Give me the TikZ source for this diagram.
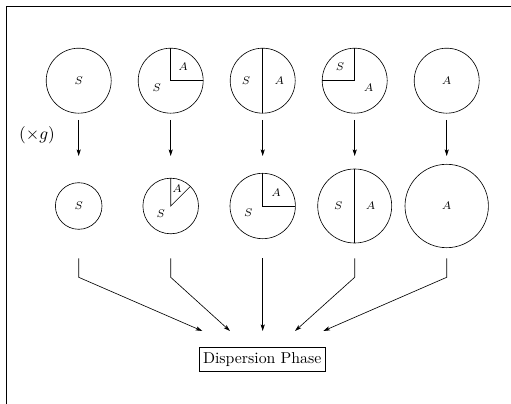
\documentclass[tikz,border=0pt]{standalone}
\usetikzlibrary{calc,arrows.meta}
\begin{document}
\begin{tikzpicture}[x=0.633pt,y=-0.633pt,
    >={Stealth[length=4.2pt,width=2.6pt,inset=1pt]},
    lbl/.style={font=\scriptsize},
    boxed/.style={draw,inner xsep=2.5pt,inner ysep=3pt}]
\useasboundingbox (0,0) rectangle (511,404);
% Rahmen
\draw (511,6) -- (6,6) -- (6,404);

% Mittelpunkte der Tropfen
\foreach \i/\x in {1/78.7,2/170.7,3/262.7,4/354.7,5/446.7} {
  \coordinate (t\i) at (\x,80.7);
  \coordinate (b\i) at (\x,206);
  \coordinate (u\i) at (\x,120);
  \coordinate (v\i) at (\x,156);
  \coordinate (p\i) at (\x,258.3);
  \coordinate (k\i) at (\x,277.3);
}

% obere Reihe
\foreach \i in {1,...,5} \draw (t\i) circle[radius=32.5];
\draw (t2) ++(0,-32.5) -- (t2) -- ++(32.5,0);
\draw (t3) ++(0,-32.5) -- ++(0,65);
\draw (t4) ++(0,-32.5) -- (t4) -- ++(-32.5,0);

\node[lbl] (s1) at (t1) {$S$};
\node[lbl] (a2) at ($(t2)+(12.3,-14)$) {$A$};
\node[lbl] (s2) at ($(t2)+(-14,7)$) {$S$};
\node[lbl] (s3) at ($(t3)+(-16.7,0)$) {$S$};
\node[lbl] (a3) at ($(t3)+(16.7,0)$) {$A$};
\node[lbl] (s4) at ($(t4)+(-14.7,-14)$) {$S$};
\node[lbl] (a4) at ($(t4)+(14,7)$) {$A$};
\node[lbl] (a5) at (t5) {$A$};

% Wachstum
\node[font=\fontsize{11.1}{13}\selectfont] (gfac) at (37,135) {$(\times g)$};
\foreach \i in {1,...,5} \draw[->] (u\i) -- (v\i);

% untere Reihe
\draw (b1) circle[radius=23.3];
\draw (b2) circle[radius=27.8];
\draw (b3) circle[radius=32.7];
\draw (b4) circle[radius=37];
\draw (b5) circle[radius=41.7];
\draw (b2) ++(0,-27.8) -- (b2) -- ++(-45:27.8);
\draw (b3) ++(0,-32.7) -- (b3) -- ++(32.7,0);
\draw (b4) ++(0,-37) -- ++(0,74);

\node[lbl] (bs1) at (b1) {$S$};
\node[lbl] (ba2) at ($(b2)+(6.3,-17.7)$) {$A$};
\node[lbl] (bs2) at ($(b2)+(-10,7.3)$) {$S$};
\node[lbl] (ba3) at ($(b3)+(13.3,-13.3)$) {$A$};
\node[lbl] (bs3) at ($(b3)+(-14.3,6.7)$) {$S$};
\node[lbl] (bs4) at ($(b4)+(-16.3,0)$) {$S$};
\node[lbl] (ba4) at ($(b4)+(16,0)$) {$A$};
\node[lbl] (ba5) at (b5) {$A$};

% Zusammenfuehrung
\node[boxed] (disp) at (262.2,359.3) {Dispersion Phase};
\foreach \i/\x in {1/202.3,2/230,3/262.7,4/295,5/323.3} {
  \coordinate (q\i) at (\x,331);
  \draw[->] (p\i) -- (k\i) -- (q\i);
}
\end{tikzpicture}
\end{document}
